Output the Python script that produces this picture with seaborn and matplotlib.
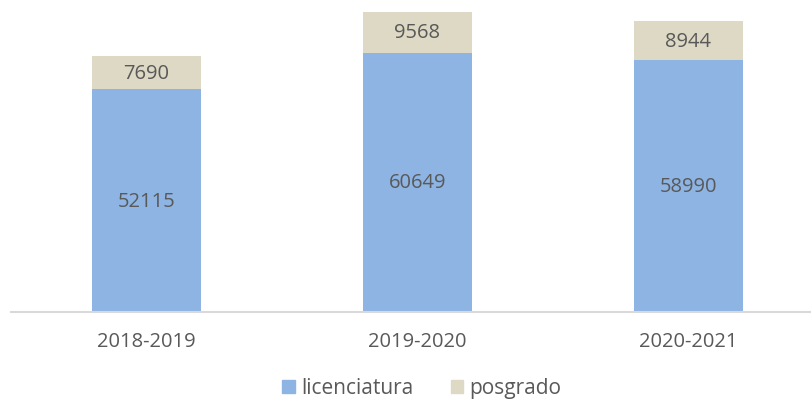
import numpy as np
import matplotlib.pyplot as plt
import seaborn as sns
import pandas as pd
from matplotlib.patches import Patch

sns.set_theme(style="white")
plt.rcParams['font.family'] = ['Open Sans', 'DejaVu Sans']

periodos = ['2018-2019', '2019-2020', '2020-2021']
licenciatura = [52115, 60649, 58990]
posgrado = [7690, 9568, 8944]

c_lic = '#8EB4E3'
c_pos = '#DDD9C4'
txt = '#595959'

df = pd.DataFrame({'periodo': periodos, 'licenciatura': licenciatura, 'posgrado': posgrado})
df['total'] = df['licenciatura'] + df['posgrado']

fig = plt.figure(figsize=(8.11, 4.02), dpi=100)
# axes placed so that the baseline and bar spacing line up with the reference
ax = fig.add_axes([11 / 811, 89 / 402, 813 / 811, 308 / 402])

sns.barplot(data=df, x='periodo', y='total', color=c_pos, width=0.40,
            saturation=1, linewidth=0, ax=ax)
sns.barplot(data=df, x='periodo', y='licenciatura', color=c_lic, width=0.40,
            saturation=1, linewidth=0, ax=ax)

for i, (l, p) in enumerate(zip(licenciatura, posgrado)):
    ax.text(i, l / 2, str(l), ha='center', va='center', fontsize=14.5, color=txt)
    ax.text(i, l + p / 2, str(p), ha='center', va='center', fontsize=14.5, color=txt)

ax.set_xlim(-0.5, 2.5)
ax.set_ylim(0, 72000)
ax.set_xlabel('')
ax.set_ylabel('')
ax.set_yticks([])
ax.tick_params(axis='x', length=0, labelsize=14.5, labelcolor=txt, pad=14)
for s in ['top', 'right', 'left']:
    ax.spines[s].set_visible(False)
ax.spines['bottom'].set_color('#D9D9D9')
ax.spines['bottom'].set_linewidth(1.5)
ax.set_facecolor('white')

handles = [Patch(color=c_lic, label='licenciatura'), Patch(color=c_pos, label='posgrado')]
fig.legend(handles=handles, loc='center', bbox_to_anchor=(422 / 811, 1 - 389 / 402),
           ncol=2, frameon=False, fontsize=15, handlelength=0.6, handleheight=0.6,
           handletextpad=0.3, columnspacing=1.8, labelcolor=txt)

fig.savefig('out.png', dpi=100, facecolor='white')
